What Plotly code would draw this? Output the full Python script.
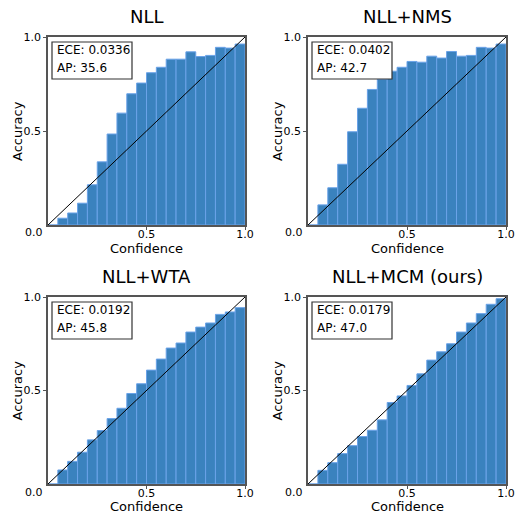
import plotly.graph_objects as go

W, H = 518, 514

titles = ["NLL", "NLL+NMS", "NLL+WTA", "NLL+MCM (ours)"]
ece = ["0.0336", "0.0402", "0.0192", "0.0179"]
ap = ["35.6", "42.7", "45.8", "47.0"]

bin_centers = [0.025 + 0.05 * i for i in range(20)]

acc_nll = [0.0, 0.036, 0.064, 0.116, 0.214, 0.336, 0.484, 0.595, 0.698, 0.755,
           0.81, 0.839, 0.882, 0.882, 0.921, 0.896, 0.902, 0.945, 0.941, 0.9625]
acc_nms = [0.0, 0.107, 0.198, 0.323, 0.496, 0.621, 0.721, 0.775, 0.818, 0.839,
           0.87, 0.866, 0.898, 0.888, 0.923, 0.898, 0.902, 0.945, 0.941, 0.9625]
acc_wta = [0.0, 0.075, 0.121, 0.170, 0.236, 0.286, 0.35, 0.405, 0.484, 0.536,
           0.609, 0.668, 0.727, 0.754, 0.8125, 0.839, 0.861, 0.907, 0.92, 0.943]
acc_mcm = [0.0, 0.073, 0.114, 0.1625, 0.205, 0.254, 0.2875, 0.343, 0.436, 0.471,
           0.527, 0.589, 0.6625, 0.707, 0.75, 0.8125, 0.861, 0.911, 0.961, 0.991]
series = [acc_nll, acc_nms, acc_wta, acc_mcm]

# panel pixel boxes (left, right, top, bottom)
boxes = [(48, 245, 37, 225), (308, 506, 37, 225),
         (48, 245, 297, 484), (308, 506, 297, 484)]
xlabel_off = [23, 23, 22.5, 22.5]

FONT = "DejaVu Sans"
fig = go.Figure()
layout = dict(width=W, height=H, margin=dict(l=0, r=0, t=0, b=0, pad=0, autoexpand=False),
              autosize=False, template="none",
              paper_bgcolor="white", plot_bgcolor="white", showlegend=False,
              font=dict(family=FONT, color="black"))
annotations = []
shapes = []

for i in range(4):
    l, r, t, b = boxes[i]
    pw, ph = r - l, b - t
    xa = "xaxis" if i == 0 else f"xaxis{i+1}"
    ya = "yaxis" if i == 0 else f"yaxis{i+1}"
    xr = "x" if i == 0 else f"x{i+1}"
    yr = "y" if i == 0 else f"y{i+1}"
    fig.add_trace(go.Bar(x=bin_centers, y=series[i], width=0.05, xaxis=xr, yaxis=yr,
                         marker=dict(color="#3a82be", line=dict(color="#6aa2e8", width=1)),
                         hoverinfo="skip"))
    fig.add_trace(go.Scatter(x=[0, 1], y=[0, 1], mode="lines", xaxis=xr, yaxis=yr,
                             line=dict(color="black", width=1), hoverinfo="skip"))
    layout[xa] = dict(domain=[l / W, r / W], range=[0, 1], anchor=yr, automargin=False,
                      tickvals=[0.5, 1.0], ticktext=["0.5", "1.0"],
                      ticks="outside", ticklen=3, tickcolor="#555", ticklabelstandoff=-5,
                      showline=True, mirror=True, linecolor="#555", linewidth=1.5,
                      showgrid=False, zeroline=False, tickfont=dict(size=11, family=FONT),
                      fixedrange=True)
    layout[ya] = dict(domain=[1 - b / H, 1 - t / H], range=[0, 1], anchor=xr, automargin=False,
                      tickvals=[0.5, 1.0], ticktext=["0.5", "1.0"],
                      ticks="outside", ticklen=3, tickcolor="#555",
                      showline=True, mirror=True, linecolor="#555", linewidth=1.5,
                      showgrid=False, zeroline=False, tickfont=dict(size=11, family=FONT),
                      fixedrange=True)
    cx = (l + r) / 2
    # title
    annotations.append(dict(text=titles[i], x=cx / W, y=1 - (t - 21) / H,
                             xref="paper", yref="paper", showarrow=False,
                             font=dict(size=18, family=FONT), xanchor="center", yanchor="middle"))
    # x label
    annotations.append(dict(text="Confidence", x=cx / W, y=1 - (b + xlabel_off[i]) / H,
                             xref="paper", yref="paper", showarrow=False, borderpad=0,
                             font=dict(size=13, family=FONT), xanchor="center", yanchor="middle"))
    # y label
    annotations.append(dict(text="Accuracy", x=(l - 31) / W, y=1 - ((t + b) / 2) / H,
                             xref="paper", yref="paper", showarrow=False, textangle=-90,
                             font=dict(size=13, family=FONT), xanchor="center", yanchor="middle"))
    # 0.0 corner label
    annotations.append(dict(text="0.0", x=(l - 14) / W, y=1 - (b + 8) / H,
                             xref="paper", yref="paper", showarrow=False,
                             font=dict(size=11, family=FONT), xanchor="center", yanchor="middle"))
    # stats box
    shapes.append(dict(type="rect", xref=f"{xr} domain", yref=f"{yr} domain",
                       x0=4 / pw, x1=84 / pw, y0=1 - 42 / ph, y1=1 - 5 / ph,
                       line=dict(color="#333", width=1.2), fillcolor="white", layer="above"))
    annotations.append(dict(text=f"ECE: {ece[i]}", xref=f"{xr} domain", yref=f"{yr} domain",
                             x=6.5 / pw, y=1 - 13 / ph, showarrow=False, xanchor="left",
                             yanchor="middle", font=dict(size=12, family=FONT)))
    annotations.append(dict(text=f"AP: {ap[i]}", xref=f"{xr} domain", yref=f"{yr} domain",
                             x=6.5 / pw, y=1 - 31 / ph, showarrow=False, xanchor="left",
                             yanchor="middle", font=dict(size=12, family=FONT)))

layout["annotations"] = annotations
layout["shapes"] = shapes
fig.update_layout(**layout)
fig.write_html("out.html")
